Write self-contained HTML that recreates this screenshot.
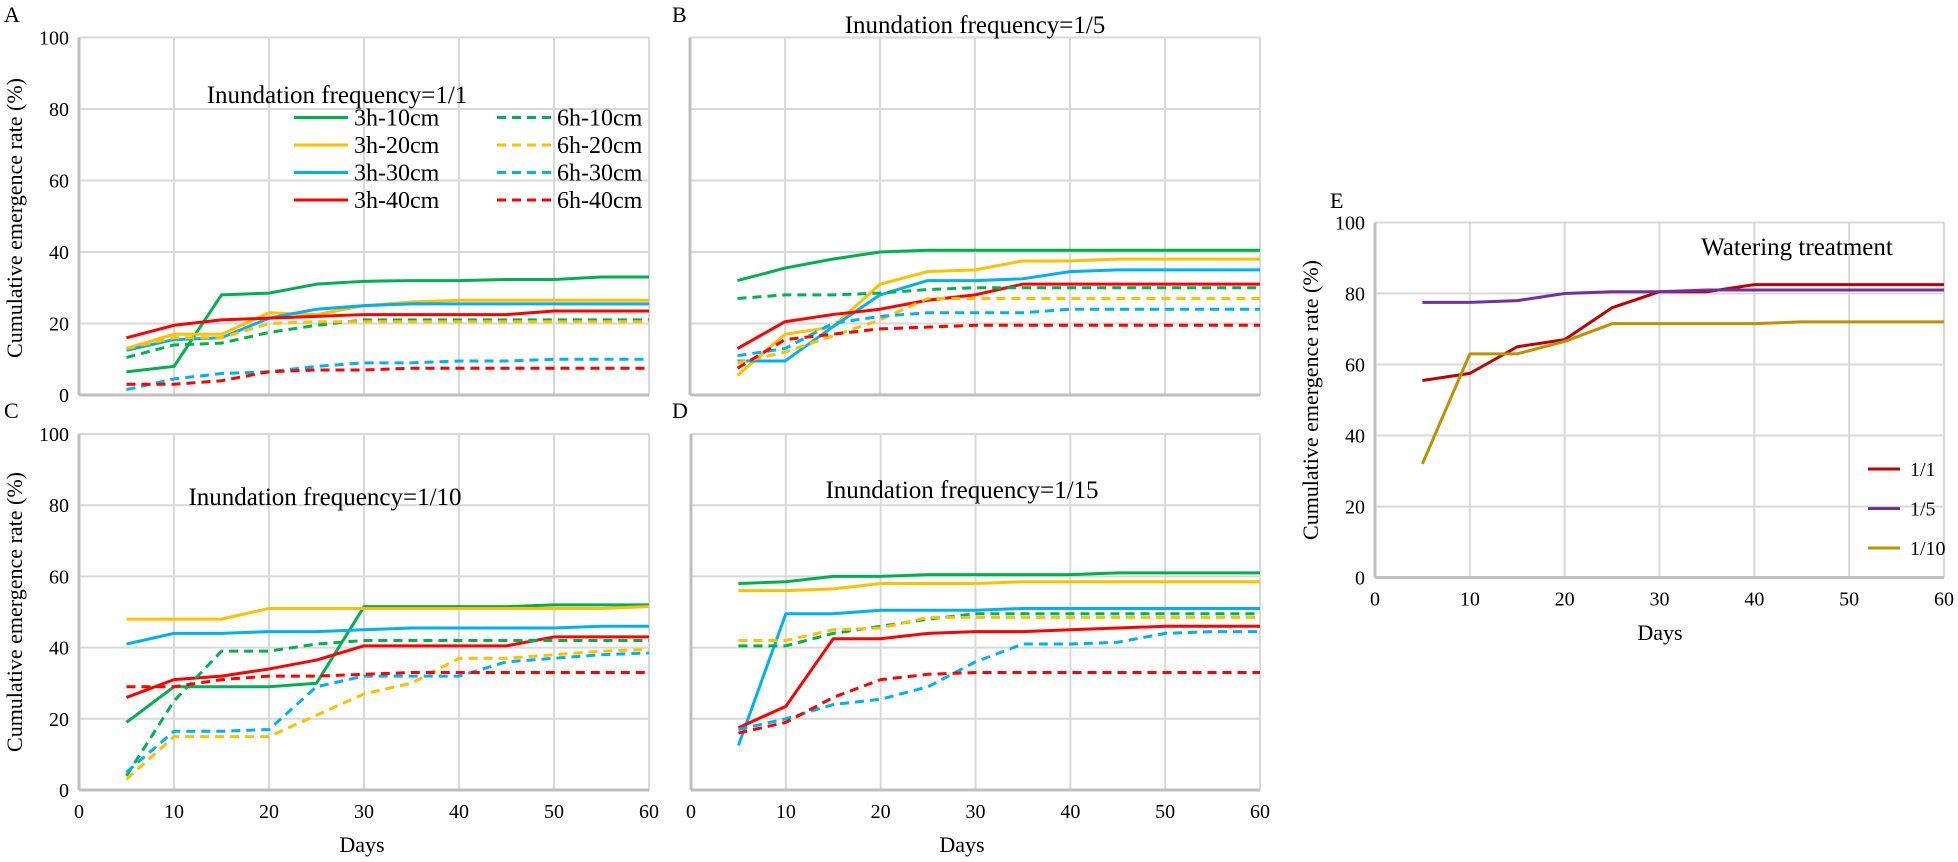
<!DOCTYPE html>
<html><head><meta charset="utf-8"><style>
html,body{margin:0;padding:0;background:#fff}
svg{display:block;font-family:"Liberation Serif",serif}
</style></head><body>
<svg id="c" width="1958" height="862"></svg>
<script>
const days=[5,10,15,20,25,30,35,40,45,50,55,60];
const seriesNames=["3h-10cm","3h-20cm","3h-30cm","3h-40cm","6h-10cm","6h-20cm","6h-30cm","6h-40cm"];
const seriesColors=["#00B050","#FFC000","#00B0F0","#FF0000","#00B050","#FFC000","#00B0F0","#FF0000"];
const yTicks=[0,20,40,60,80,100];
const xTicks=[0,10,20,30,40,50,60];
const A_3h10=[6.5,8,28,28.5,31,31.8,32,32,32.3,32.3,33,33];
const A_3h20=[13,17,17,23,22.5,25,26,26.5,26.5,26.5,26.5,26.5];
const A_3h30=[12.5,15.5,16,21.5,24,25,25.5,25.5,25.5,25.5,25.5,25.5];
const A_3h40=[16,19.5,21,21.5,22,22.5,22.5,22.5,22.5,23.5,23.5,23.5];
const A_6h10=[10.5,14,14.5,17.5,19.5,21,21,21,21,21,21,21];
const A_6h20=[13,16,16,20,20.5,20.5,20.5,20.5,20.5,20.5,20.5,20.5];
const A_6h30=[1.5,4.5,6,6.5,8,9,9,9.5,9.5,10,10,10];
const A_6h40=[3,3,4,6.5,7,7,7.5,7.5,7.5,7.5,7.5,7.5];
const B_3h10=[32,35.5,38,40,40.5,40.5,40.5,40.5,40.5,40.5,40.5,40.5];
const B_3h20=[5.5,17,19,31,34.5,35,37.5,37.5,38,38,38,38];
const B_3h30=[9.5,9.5,19,28,32,32,32.5,34.5,35,35,35,35];
const B_3h40=[13,20.5,22.5,24,26.5,28,31,31,31,31,31,31];
const B_6h10=[27,28,28,28.5,29.5,30,30,30,30,30,30,30];
const B_6h20=[9,12,16.5,21,27,27,27,27,27,27,27,27];
const B_6h30=[11,13,20,22,23,23,23,24,24,24,24,24];
const B_6h40=[7.5,15.5,17,18.5,19,19.5,19.5,19.5,19.5,19.5,19.5,19.5];
const C_3h10=[19,29,29,29,30,51.5,51.5,51.5,51.5,52,52,52];
const C_3h20=[48,48,48,51,51,51,51,51,51,51,51,51.5];
const C_3h30=[41,44,44,44.5,44.5,45,45.5,45.5,45.5,45.5,46,46];
const C_3h40=[26,31,32,34,36.5,40.5,40.5,40.5,40.5,43,43,43];
const C_6h10=[4,25,39,39,41,42,42,42,42,42,42,42];
const C_6h20=[3,15,15,15,21,27,30,37,37,38,39,39.5];
const C_6h30=[5,16.5,16.5,17,29,32,32,32,36,37,38,38.5];
const C_6h40=[29,29,31,32,32,32.5,33,33,33,33,33,33];
const D_3h10=[58,58.5,60,60,60.5,60.5,60.5,60.5,61,61,61,61];
const D_3h20=[56,56,56.5,58,58,58,58.5,58.5,58.5,58.5,58.5,58.5];
const D_3h30=[12.5,49.5,49.5,50.5,50.5,50.5,51,51,51,51,51,51];
const D_3h40=[17.5,23.5,42.5,42.5,44,44.5,44.5,45,45.5,46,46,46];
const D_6h10=[40.5,40.5,44,46,48,49.5,49.5,49.5,49.5,49.5,49.5,49.5];
const D_6h20=[42,42,45,45.5,48.5,48.5,48.5,48.5,48.5,48.5,48.5,48.5];
const D_6h30=[17,20,24,25.5,29,36,41,41,41.5,44,44.5,44.5];
const D_6h40=[16,19,26,31,32.5,33,33,33,33,33,33,33];
const E_names=["1/1","1/5","1/10"];
const E_colors=["#C00000","#7030A0","#BF9000"];
const E_11=[55.5,57.5,65,67,76,80.5,80.5,82.5,82.5,82.5,82.5,82.5];
const E_15=[77.5,77.5,78,80,80.5,80.5,81,81,81,81,81,81];
const E_110=[32,63,63,66.5,71.5,71.5,71.5,71.5,72,72,72,72];

const svg=document.getElementById('c');
const NS="http://www.w3.org/2000/svg";
function mk(tag,at,parent){const e=document.createElementNS(NS,tag);for(const k in at)e.setAttribute(k,at[k]);(parent||svg).appendChild(e);return e;}
function txt(s,x,y,size,anchor,parent,rot){const e=mk('text',{x:x,y:y,'font-size':size,'text-anchor':anchor||'start',fill:'#000'},parent);if(rot)e.setAttribute('transform','rotate(-90 '+x+' '+y+')');e.textContent=s;return e;}

function panel(id,x0,x1,y0,y100,showY,showX,sets,colors,dashes,title,tx,ty){
  const g=mk('g',{});
  
  
  const xs=d=>x0+(x1-x0)*d/60, ys=v=>y0+(y100-y0)*v/100;
  xTicks.forEach(t=>{if(t>0){const l=mk('line',{x1:xs(t),x2:xs(t),y1:y0,y2:y100,stroke:'#d9d9d9','stroke-width':2},g);}});
  yTicks.forEach(t=>{if(t>0){const l=mk('line',{x1:x0,x2:x1,y1:ys(t),y2:ys(t),stroke:'#d9d9d9','stroke-width':2},g);}});
  const ax=mk('line',{x1:x0,x2:x0,y1:y0,y2:y100,stroke:'#bfbfbf','stroke-width':3},g);
  
  const ax2=mk('line',{x1:x0,x2:x1,y1:y0,y2:y0,stroke:'#bfbfbf','stroke-width':3},g);
  
  if(showY)yTicks.forEach(t=>{const e=txt(String(t),x0-10,ys(t)+7,20,'end',g);});
  if(showX)xTicks.forEach(t=>{const e=txt(String(t),xs(t),y0+28,20,'middle',g);});
  sets.forEach((arr,i)=>{
    const p=mk('polyline',{points:arr.map((v,j)=>xs(days[j])+','+ys(v)).join(' '),fill:'none',stroke:colors[i],'stroke-width':3,'stroke-dasharray':dashes[i]?'9,6':'none','stroke-linejoin':'round'},g);
    
    
  });
  const t=txt(title,tx,ty,25,'middle',g);
  
}
const dash8=[0,0,0,0,1,1,1,1];
panel('a',79,649,395,37.5,true,false,[A_3h10,A_3h20,A_3h30,A_3h40,A_6h10,A_6h20,A_6h30,A_6h40],seriesColors,dash8,"Inundation frequency=1/1",337,103);
panel('b',690,1260,395,37.5,false,false,[B_3h10,B_3h20,B_3h30,B_3h40,B_6h10,B_6h20,B_6h30,B_6h40],seriesColors,dash8,"Inundation  frequency=1/5",975,33);
panel('c',79,649,790,434,true,true,[C_3h10,C_3h20,C_3h30,C_3h40,C_6h10,C_6h20,C_6h30,C_6h40],seriesColors,dash8,"Inundation  frequency=1/10",325,505);
panel('d',691,1260,790,434,false,true,[D_3h10,D_3h20,D_3h30,D_3h40,D_6h10,D_6h20,D_6h30,D_6h40],seriesColors,dash8,"Inundation  frequency=1/15",962,498);
panel('e',1375,1944,577.5,222.5,true,true,[E_11,E_15,E_110],E_colors,[0,0,0],"Watering  treatment",1797,255);

seriesNames.forEach((n,i)=>{
  const col=i<4?0:1, row=i%4;
  const lx=col?497:294, y=117.5+row*27.5;
  const l=mk('line',{x1:lx,x2:lx+54,y1:y,y2:y,stroke:seriesColors[i],'stroke-width':3,'stroke-dasharray':col?'9,6':'none'});
  
  const t=txt(n,lx+60,y+8,24,'start');
  
});
E_names.forEach((n,i)=>{
  const y=469+i*39.5;
  const l=mk('line',{x1:1868,x2:1900,y1:y,y2:y,stroke:E_colors[i],'stroke-width':3});
  
  const t=txt(n,1910,y+7,20,'start');
  
});
[["A",4,22],["B",672,22],["C",4,418],["D",672,418],["E",1330,208]].forEach(a=>{const t=txt(a[0],a[1],a[2],22,'start');});
[[22,218],[22,612],[1318,400]].forEach(p=>{const t=txt("Cumulative emergence rate (%)",p[0],p[1],22,'middle',null,true);});
[[362,852],[962,852],[1660,640]].forEach(p=>{const t=txt("Days",p[0],p[1],22,'middle');});
</script>
</body></html>
